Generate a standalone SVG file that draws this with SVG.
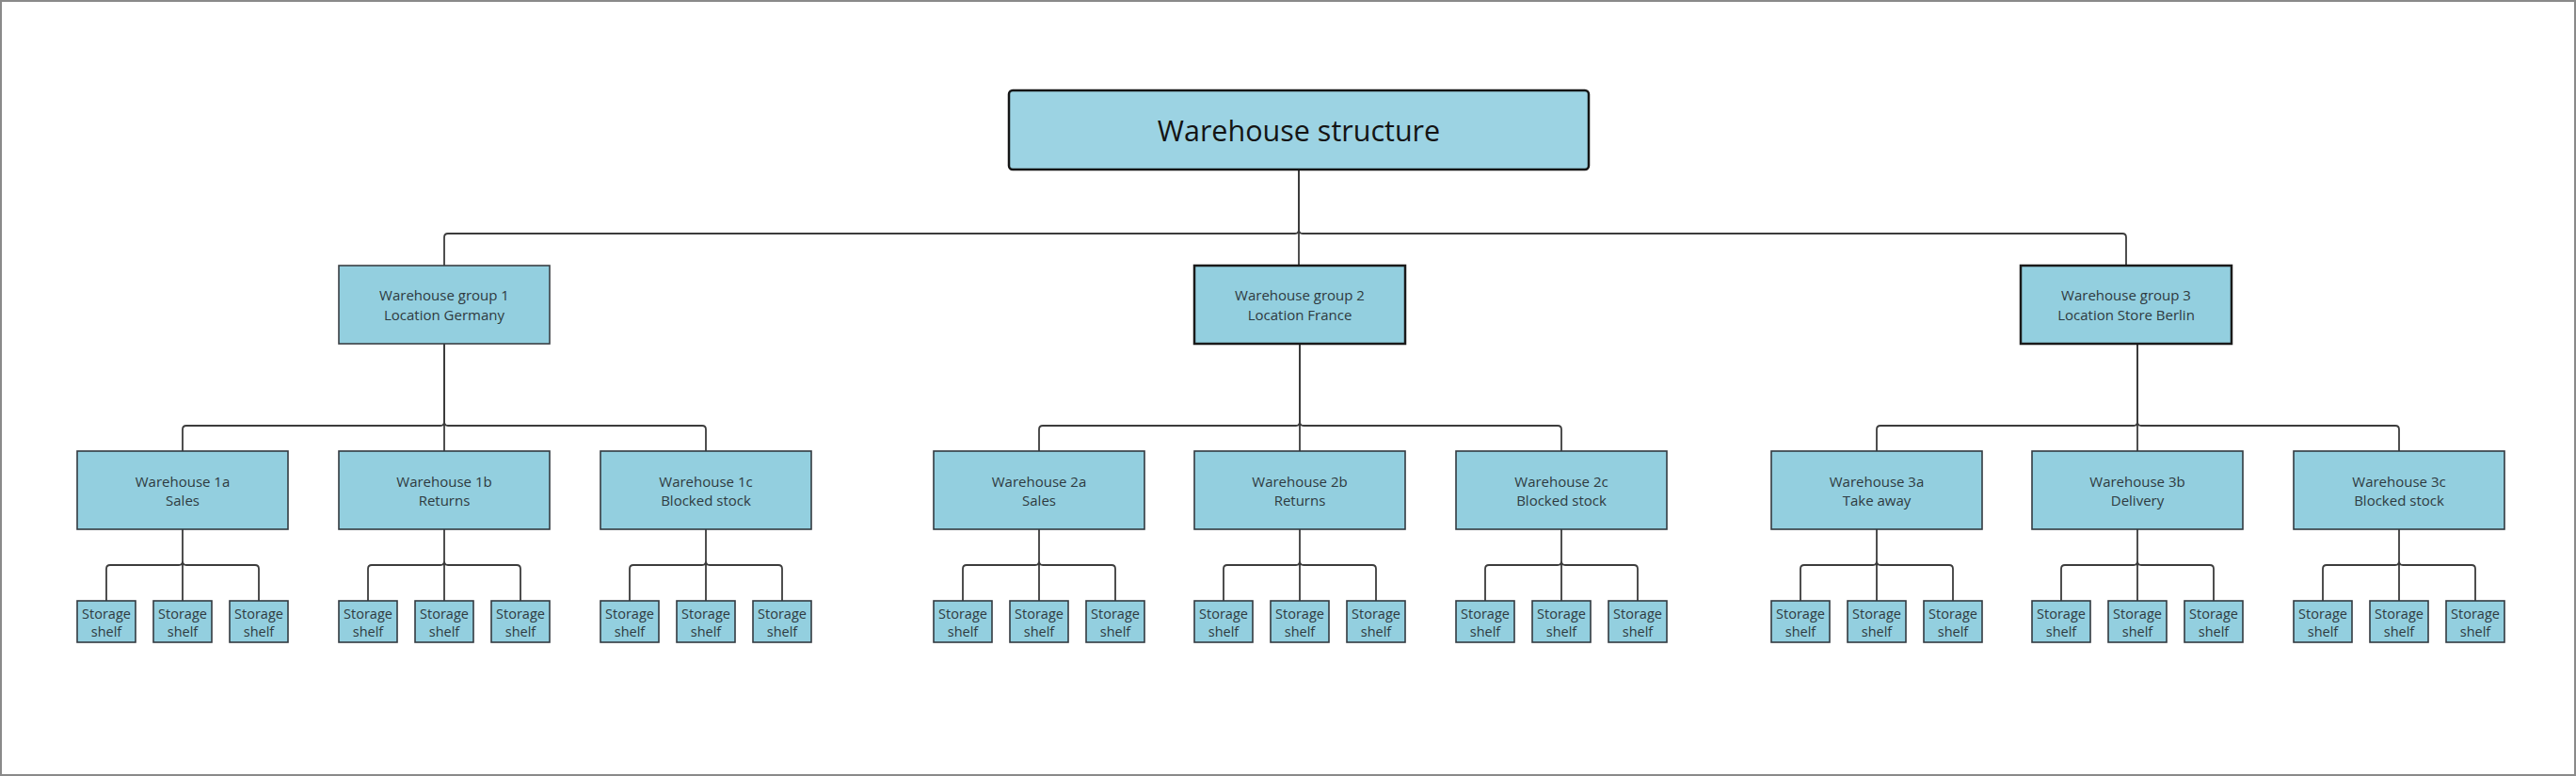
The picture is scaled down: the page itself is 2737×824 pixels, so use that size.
<svg xmlns="http://www.w3.org/2000/svg" width="2737" height="824" viewBox="0 0 2737 824">
<style>
.frame{fill:#ffffff;stroke:#8a8a8a;stroke-width:2}
.root{fill:#9cd3e3;stroke:#151515;stroke-width:2.5}
.grp{fill:#93cfdf;stroke:#1a1a1a;stroke-width:2.5}
.grp1{fill:#93cfdf;stroke:#3a3f44;stroke-width:1.6}
.wh{fill:#93cfdf;stroke:#333a40;stroke-width:1.6}
.sh{fill:#93cfdf;stroke:#333a40;stroke-width:1.6}
.c{fill:none;stroke:#3c3c3c;stroke-width:1.8}
text{font-family:"Open Sans","Noto Sans","Liberation Sans",sans-serif;fill:#2e3a40;text-anchor:middle}
.t0{font-size:30.5px;fill:#141414}
.t1{font-size:15px}
.t2{font-size:14.5px}
</style>
<rect class="frame" x="1" y="1" width="2735" height="822"/>
<g id="connectors">
<path class="c" d="M1380,180 V244 Q1380,248 1376,248 H476 Q472,248 472,252 V282"/>
<path class="c" d="M1380,180 V282"/>
<path class="c" d="M1380,180 V244 Q1380,248 1384,248 H2255 Q2259,248 2259,252 V282"/>
<path class="c" d="M472,365 V448 Q472,452 468,452 H198 Q194,452 194,456 V479"/>
<path class="c" d="M472,365 V479"/>
<path class="c" d="M472,365 V448 Q472,452 476,452 H746 Q750,452 750,456 V479"/>
<path class="c" d="M1381,365 V448 Q1381,452 1377,452 H1108 Q1104,452 1104,456 V479"/>
<path class="c" d="M1381,365 V479"/>
<path class="c" d="M1381,365 V448 Q1381,452 1385,452 H1655 Q1659,452 1659,456 V479"/>
<path class="c" d="M2271,365 V448 Q2271,452 2267,452 H1998 Q1994,452 1994,456 V479"/>
<path class="c" d="M2271,365 V479"/>
<path class="c" d="M2271,365 V448 Q2271,452 2275,452 H2545 Q2549,452 2549,456 V479"/>
<path class="c" d="M194,562 V596 Q194,600 190,600 H117 Q113,600 113,604 V638 M194,562 V638 M194,562 V596 Q194,600 198,600 H271 Q275,600 275,604 V638"/>
<path class="c" d="M472,562 V596 Q472,600 468,600 H395 Q391,600 391,604 V638 M472,562 V638 M472,562 V596 Q472,600 476,600 H549 Q553,600 553,604 V638"/>
<path class="c" d="M750,562 V596 Q750,600 746,600 H673 Q669,600 669,604 V638 M750,562 V638 M750,562 V596 Q750,600 754,600 H827 Q831,600 831,604 V638"/>
<path class="c" d="M1104,562 V596 Q1104,600 1100,600 H1027 Q1023,600 1023,604 V638 M1104,562 V638 M1104,562 V596 Q1104,600 1108,600 H1181 Q1185,600 1185,604 V638"/>
<path class="c" d="M1381,562 V596 Q1381,600 1377,600 H1304 Q1300,600 1300,604 V638 M1381,562 V638 M1381,562 V596 Q1381,600 1385,600 H1458 Q1462,600 1462,604 V638"/>
<path class="c" d="M1659,562 V596 Q1659,600 1655,600 H1582 Q1578,600 1578,604 V638 M1659,562 V638 M1659,562 V596 Q1659,600 1663,600 H1736 Q1740,600 1740,604 V638"/>
<path class="c" d="M1994,562 V596 Q1994,600 1990,600 H1917 Q1913,600 1913,604 V638 M1994,562 V638 M1994,562 V596 Q1994,600 1998,600 H2071 Q2075,600 2075,604 V638"/>
<path class="c" d="M2271,562 V596 Q2271,600 2267,600 H2194 Q2190,600 2190,604 V638 M2271,562 V638 M2271,562 V596 Q2271,600 2275,600 H2348 Q2352,600 2352,604 V638"/>
<path class="c" d="M2549,562 V596 Q2549,600 2545,600 H2472 Q2468,600 2468,604 V638 M2549,562 V638 M2549,562 V596 Q2549,600 2553,600 H2626 Q2630,600 2630,604 V638"/>
</g>
<g id="root"><rect class="root" x="1072" y="96" width="616" height="84" rx="4"/><text class="t0" x="1380" y="150">Warehouse structure</text></g>
<g id="group1"><rect class="grp1" x="360" y="282" width="224" height="83"/><text class="t1" x="472" y="319">Warehouse group 1</text><text class="t1" x="472" y="340">Location Germany</text></g>
<g id="group2"><rect class="grp" x="1269" y="282" width="224" height="83"/><text class="t1" x="1381" y="319">Warehouse group 2</text><text class="t1" x="1381" y="340">Location France</text></g>
<g id="group3"><rect class="grp" x="2147" y="282" width="224" height="83"/><text class="t1" x="2259" y="319">Warehouse group 3</text><text class="t1" x="2259" y="340">Location Store Berlin</text></g>
<g id="wh1a"><rect class="wh" x="82" y="479" width="224" height="83"/><text class="t1" x="194" y="517">Warehouse 1a</text><text class="t1" x="194" y="537">Sales</text></g>
<g id="wh1b"><rect class="wh" x="360" y="479" width="224" height="83"/><text class="t1" x="472" y="517">Warehouse 1b</text><text class="t1" x="472" y="537">Returns</text></g>
<g id="wh1c"><rect class="wh" x="638" y="479" width="224" height="83"/><text class="t1" x="750" y="517">Warehouse 1c</text><text class="t1" x="750" y="537">Blocked stock</text></g>
<g id="wh2a"><rect class="wh" x="992" y="479" width="224" height="83"/><text class="t1" x="1104" y="517">Warehouse 2a</text><text class="t1" x="1104" y="537">Sales</text></g>
<g id="wh2b"><rect class="wh" x="1269" y="479" width="224" height="83"/><text class="t1" x="1381" y="517">Warehouse 2b</text><text class="t1" x="1381" y="537">Returns</text></g>
<g id="wh2c"><rect class="wh" x="1547" y="479" width="224" height="83"/><text class="t1" x="1659" y="517">Warehouse 2c</text><text class="t1" x="1659" y="537">Blocked stock</text></g>
<g id="wh3a"><rect class="wh" x="1882" y="479" width="224" height="83"/><text class="t1" x="1994" y="517">Warehouse 3a</text><text class="t1" x="1994" y="537">Take away</text></g>
<g id="wh3b"><rect class="wh" x="2159" y="479" width="224" height="83"/><text class="t1" x="2271" y="517">Warehouse 3b</text><text class="t1" x="2271" y="537">Delivery</text></g>
<g id="wh3c"><rect class="wh" x="2437" y="479" width="224" height="83"/><text class="t1" x="2549" y="517">Warehouse 3c</text><text class="t1" x="2549" y="537">Blocked stock</text></g>
<g id="sh1a1"><rect class="sh" x="82" y="638" width="62" height="44"/><text class="t2" x="113" y="657">Storage</text><text class="t2" x="113" y="676">shelf</text></g>
<g id="sh1a2"><rect class="sh" x="163" y="638" width="62" height="44"/><text class="t2" x="194" y="657">Storage</text><text class="t2" x="194" y="676">shelf</text></g>
<g id="sh1a3"><rect class="sh" x="244" y="638" width="62" height="44"/><text class="t2" x="275" y="657">Storage</text><text class="t2" x="275" y="676">shelf</text></g>
<g id="sh1b1"><rect class="sh" x="360" y="638" width="62" height="44"/><text class="t2" x="391" y="657">Storage</text><text class="t2" x="391" y="676">shelf</text></g>
<g id="sh1b2"><rect class="sh" x="441" y="638" width="62" height="44"/><text class="t2" x="472" y="657">Storage</text><text class="t2" x="472" y="676">shelf</text></g>
<g id="sh1b3"><rect class="sh" x="522" y="638" width="62" height="44"/><text class="t2" x="553" y="657">Storage</text><text class="t2" x="553" y="676">shelf</text></g>
<g id="sh1c1"><rect class="sh" x="638" y="638" width="62" height="44"/><text class="t2" x="669" y="657">Storage</text><text class="t2" x="669" y="676">shelf</text></g>
<g id="sh1c2"><rect class="sh" x="719" y="638" width="62" height="44"/><text class="t2" x="750" y="657">Storage</text><text class="t2" x="750" y="676">shelf</text></g>
<g id="sh1c3"><rect class="sh" x="800" y="638" width="62" height="44"/><text class="t2" x="831" y="657">Storage</text><text class="t2" x="831" y="676">shelf</text></g>
<g id="sh2a1"><rect class="sh" x="992" y="638" width="62" height="44"/><text class="t2" x="1023" y="657">Storage</text><text class="t2" x="1023" y="676">shelf</text></g>
<g id="sh2a2"><rect class="sh" x="1073" y="638" width="62" height="44"/><text class="t2" x="1104" y="657">Storage</text><text class="t2" x="1104" y="676">shelf</text></g>
<g id="sh2a3"><rect class="sh" x="1154" y="638" width="62" height="44"/><text class="t2" x="1185" y="657">Storage</text><text class="t2" x="1185" y="676">shelf</text></g>
<g id="sh2b1"><rect class="sh" x="1269" y="638" width="62" height="44"/><text class="t2" x="1300" y="657">Storage</text><text class="t2" x="1300" y="676">shelf</text></g>
<g id="sh2b2"><rect class="sh" x="1350" y="638" width="62" height="44"/><text class="t2" x="1381" y="657">Storage</text><text class="t2" x="1381" y="676">shelf</text></g>
<g id="sh2b3"><rect class="sh" x="1431" y="638" width="62" height="44"/><text class="t2" x="1462" y="657">Storage</text><text class="t2" x="1462" y="676">shelf</text></g>
<g id="sh2c1"><rect class="sh" x="1547" y="638" width="62" height="44"/><text class="t2" x="1578" y="657">Storage</text><text class="t2" x="1578" y="676">shelf</text></g>
<g id="sh2c2"><rect class="sh" x="1628" y="638" width="62" height="44"/><text class="t2" x="1659" y="657">Storage</text><text class="t2" x="1659" y="676">shelf</text></g>
<g id="sh2c3"><rect class="sh" x="1709" y="638" width="62" height="44"/><text class="t2" x="1740" y="657">Storage</text><text class="t2" x="1740" y="676">shelf</text></g>
<g id="sh3a1"><rect class="sh" x="1882" y="638" width="62" height="44"/><text class="t2" x="1913" y="657">Storage</text><text class="t2" x="1913" y="676">shelf</text></g>
<g id="sh3a2"><rect class="sh" x="1963" y="638" width="62" height="44"/><text class="t2" x="1994" y="657">Storage</text><text class="t2" x="1994" y="676">shelf</text></g>
<g id="sh3a3"><rect class="sh" x="2044" y="638" width="62" height="44"/><text class="t2" x="2075" y="657">Storage</text><text class="t2" x="2075" y="676">shelf</text></g>
<g id="sh3b1"><rect class="sh" x="2159" y="638" width="62" height="44"/><text class="t2" x="2190" y="657">Storage</text><text class="t2" x="2190" y="676">shelf</text></g>
<g id="sh3b2"><rect class="sh" x="2240" y="638" width="62" height="44"/><text class="t2" x="2271" y="657">Storage</text><text class="t2" x="2271" y="676">shelf</text></g>
<g id="sh3b3"><rect class="sh" x="2321" y="638" width="62" height="44"/><text class="t2" x="2352" y="657">Storage</text><text class="t2" x="2352" y="676">shelf</text></g>
<g id="sh3c1"><rect class="sh" x="2437" y="638" width="62" height="44"/><text class="t2" x="2468" y="657">Storage</text><text class="t2" x="2468" y="676">shelf</text></g>
<g id="sh3c2"><rect class="sh" x="2518" y="638" width="62" height="44"/><text class="t2" x="2549" y="657">Storage</text><text class="t2" x="2549" y="676">shelf</text></g>
<g id="sh3c3"><rect class="sh" x="2599" y="638" width="62" height="44"/><text class="t2" x="2630" y="657">Storage</text><text class="t2" x="2630" y="676">shelf</text></g>
</svg>
